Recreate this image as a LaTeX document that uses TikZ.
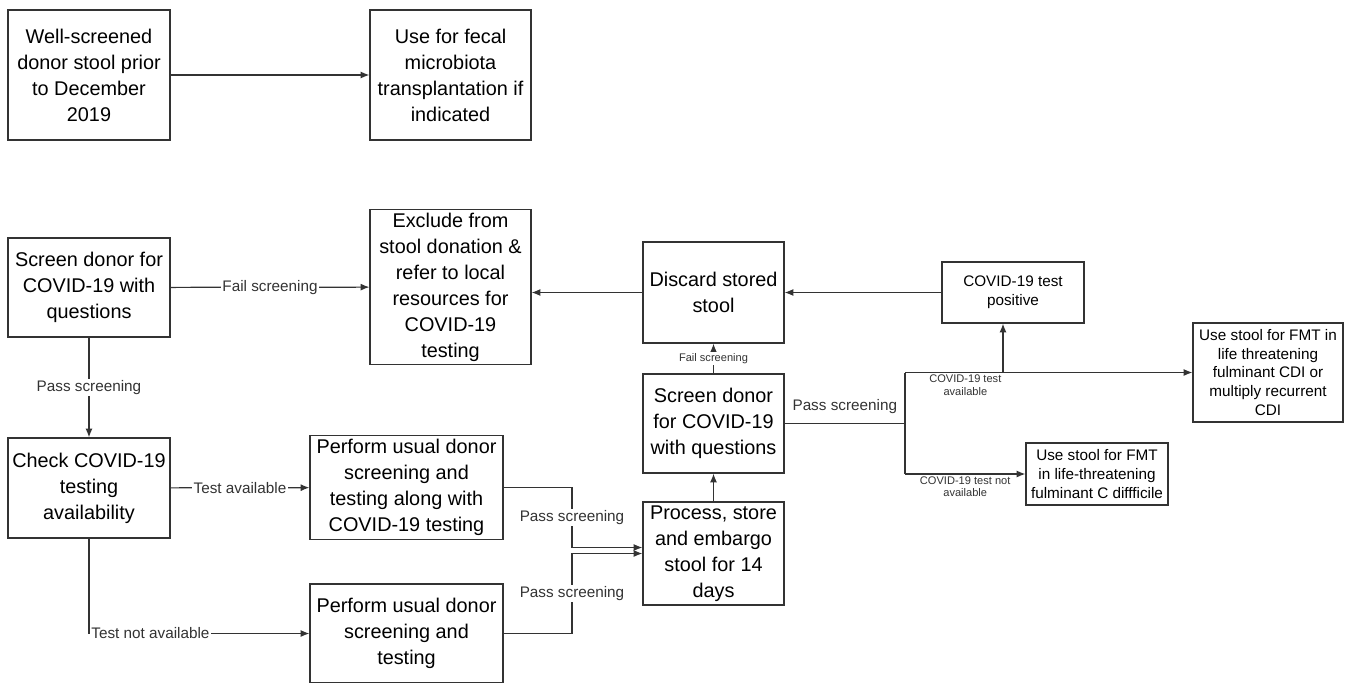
\documentclass[tikz,border=0pt]{standalone}
\usepackage{fontspec}
\setmainfont{Liberation Sans}
\usetikzlibrary{arrows.meta, calc}

\begin{document}
\begin{tikzpicture}[
  x=0.02cm, y=-0.02cm,
  box/.style={draw=black!80, line width=0.7pt, fill=white, align=center,
              inner sep=2pt, font=\fontsize{11.3}{14.8}\selectfont},
  smallbox/.style={box, font=\fontsize{8.7}{10.7}\selectfont},
  lab/.style={fill=white, inner sep=1pt, font=\fontsize{8.7}{10}\selectfont},
  tinylab/.style={inner sep=1pt, align=center,
                  font=\fontsize{6.3}{7.2}\selectfont},
  ln/.style={black!80, line width=0.7pt},
  lnk/.style={ln, -{Latex[length=5pt, width=4pt]}}
]
  \useasboundingbox (0,0) rectangle (1346,683);

  % stool banked before the pandemic
  \node[box, minimum width=3.24cm, minimum height=2.6cm] (old) at (89,75)
    {Well-screened\\donor stool prior\\to December\\2019};
  \node[box, minimum width=3.22cm, minimum height=2.6cm] (usefmt) at (450.5,75)
    {Use for fecal\\microbiota\\transplantation if\\indicated};
  \draw[lnk] (old) -- (usefmt);

  % new donors
  \node[box, minimum width=3.24cm, minimum height=1.98cm] (scr) at (89,287.5)
    {Screen donor for\\COVID-19 with\\questions};
  \node[box, minimum width=3.22cm, minimum height=3.0cm] (excl) at (450.5,287)
    {Exclude from\\stool donation \&\\refer to local\\resources for\\COVID-19\\testing};
  \node[box, minimum width=3.24cm, minimum height=2.0cm] (chk) at (89,488)
    {Check COVID-19\\testing\\availability};
  \node[box, minimum width=3.86cm, minimum height=2.02cm] (withtest) at (406.5,487.5)
    {Perform usual donor\\screening and\\testing along with\\COVID-19 testing};
  \node[box, minimum width=3.86cm, minimum height=1.98cm] (notest) at (406.5,633.5)
    {Perform usual donor\\screening and\\testing};

  \draw[lnk] (scr) -- node[lab] {Fail screening} (excl);
  \draw[lnk] (scr) -- node[lab] {Pass screening} (chk);
  \draw[lnk] (chk) -- node[lab] {Test available} (withtest);
  \draw[lnk] (chk.south) |- node[lab, anchor=west, pos=0.5] {Test not available}
    (notest.west);

  % storage and second screening
  \node[box, minimum width=2.82cm, minimum height=2.0cm] (store) at (713.5,553.5)
    {Process, store\\and embargo\\stool for 14\\days};
  \node[box, minimum width=2.82cm, minimum height=1.98cm] (rescr) at (713.5,423.5)
    {Screen donor\\for COVID-19\\with questions};
  \node[box, minimum width=2.82cm, minimum height=2.02cm] (disc) at (713.5,292.5)
    {Discard stored\\stool};

  \coordinate (mx) at (572,0);
  \coordinate (jin) at ($(store.west)+(0,-6)$);
  \draw[lnk] (withtest.east) -| node[lab, pos=0.75] {Pass screening} (mx |- jin)
    -- (jin);
  \draw[lnk] (notest.east) -| node[lab, pos=0.75] {Pass screening}
    (mx |- store.west) -- (store.west);

  \draw[lnk] (store) -- (rescr);
  \draw[lnk] (rescr) -- node[tinylab, fill=white] {Fail screening} (disc);
  \draw[lnk] (disc.west) -- (disc.west -| excl.east);

  % outcomes
  \node[smallbox, minimum width=2.84cm, minimum height=1.22cm] (pos) at (1013,292.5)
    {COVID-19 test\\positive};
  \node[smallbox, minimum width=3.0cm, minimum height=1.98cm] (fmtall) at (1268,372.5)
    {Use stool for FMT in\\life threatening\\fulminant CDI or\\multiply recurrent\\CDI};
  \node[smallbox, minimum width=2.84cm, minimum height=1.24cm] (fmtcd) at (1097,474)
    {Use stool for FMT\\in life-threatening\\fulminant C diffficile};
  \draw[lnk] (pos) -- (disc);

  \coordinate (sp) at (905,423.5);
  \coordinate (fup) at ($(pos.south)+(-10,0)$);
  \draw[ln] (rescr.east) -- node[lab, fill=none, above=4pt] {Pass screening} (sp);
  \draw[ln] (sp |- fmtall.west) -- (sp |- fmtcd.west);
  \draw[lnk] (sp |- fmtall.west) -- node[tinylab, below, pos=0.21]
    {COVID-19 test\\available} (fmtall.west);
  \draw[lnk] (fup |- fmtall.west) -- (fup);
  \draw[lnk] (sp |- fmtcd.west) -- node[tinylab, below]
    {COVID-19 test not\\available} (fmtcd.west);
\end{tikzpicture}
\end{document}
